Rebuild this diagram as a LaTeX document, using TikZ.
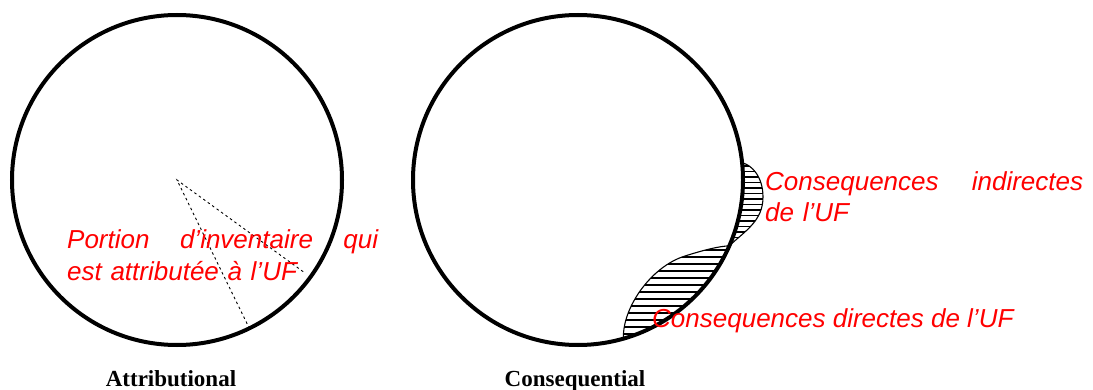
\documentclass[tikz,border=0pt]{standalone}
\usepackage{fontspec}
\setmainfont{Liberation Serif}
\newfontfamily\ufsans{Liberation Sans}
\begin{document}
\begin{tikzpicture}[x=1pt,y=1pt,
  rim/.style={line width=4pt},
  wedgeline/.style={line width=.9pt,dash pattern=on 2.5pt off 3pt},
  hatch/.style={line width=1.3pt},
  lens/.style={line width=1.1pt},
  note/.style={inner sep=0pt,anchor=base west,text=red,align=left,font=\ufsans\itshape\fontsize{26}{32}\selectfont},
  caption/.style={inner sep=0pt,anchor=base,font=\bfseries\fontsize{23}{26}\selectfont}]
 \useasboundingbox (0,0) rectangle (1093,389);
 \coordinate (attr) at (177,209);
 \coordinate (cons) at (578,209);
 \path (attr) ++(-64:165) coordinate (w1) (attr) ++(-36:156) coordinate (w2);
 \path (cons) ++(6:165) coordinate (ia) (cons) ++(-23.5:165) coordinate (ib) (cons) ++(-74:165) coordinate (db);
 \draw[wedgeline] (w2) -- (attr) -- (w1);
 \begin{scope}
  \clip (ib) arc[start angle=-23.5,end angle=6,radius=165] .. controls (752,224) and (763,212) .. (763,192) .. controls (763,168) and (745,158) .. (ib) -- cycle;
  \foreach \y in {146,151.5,...,228}{\draw[hatch] (715,\y) -- (770,\y);}
 \end{scope}
 \draw[lens] (ia) .. controls (752,224) and (763,212) .. (763,192) .. controls (763,168) and (745,158) .. (ib);
 \begin{scope}
  \clip (db) .. controls (622,80) and (650,122) .. (685,133) .. controls (705,139.3) and (718,142.5) .. (ib) arc[start angle=-23.5,end angle=-74,radius=165] -- cycle;
  \foreach \y in {55,62,...,145}{\draw[hatch] (610,\y) -- (740,\y);}
 \end{scope}
 \draw[lens] (db) .. controls (622,80) and (650,122) .. (685,133) .. controls (705,139.3) and (718,142.5) .. (ib);
 \draw[rim] (attr) circle[radius=165];
 \draw[rim] (cons) circle[radius=165];
 \node[note,text width=311pt] (portion) at (67,141) {Portion\hfill d’inventaire\hfill qui\\est attributée à l’UF};
 \node[note,text width=318pt] (indirect) at (765,199) {Consequences\hfill indirectes\\de l’UF};
 \node[note] (direct) at (652,62) {Consequences directes de l’UF};
 \node[caption] (attrlabel) at (171,3) {Attributional};
 \node[caption] (conslabel) at (575,3) {Consequential};
\end{tikzpicture}
\end{document}
